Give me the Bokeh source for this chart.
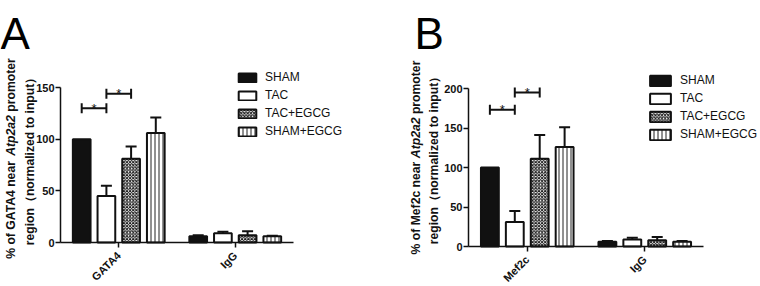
import math
from bokeh.plotting import figure
from bokeh.models import (ColumnDataSource, Range1d, FixedTicker,
                          Legend, LegendItem, Label)
from bokeh.transform import dodge
from bokeh.layouts import row
from bokeh.embed import file_html
from bokeh.resources import INLINE
from bokeh.core.properties import value

# ---------------- data ----------------
series = ["SHAM", "TAC", "TAC+EGCG", "SHAM+EGCG"]

groups_a = ["GATA4", "IgG"]
sham_a = [100, 6]
sham_a_err = [0, 1]
tac_a = [45, 9]
tac_a_err = [10, 1.5]
tacegcg_a = [81, 7]
tacegcg_a_err = [12, 4]
shamegcg_a = [106, 6]
shamegcg_a_err = [15, 0.5]
ticks_a = [0, 50, 100, 150]
brackets_a = [130, 144]       # heights of the two significance brackets
ylabel_a = ["% of GATA4 near ", "Atp2a2", " promoter", "region（normalized to input）"]

groups_b = ["Mef2c", "IgG"]
sham_b = [100, 6]
sham_b_err = [0, 1]
tac_b = [31, 9]
tac_b_err = [14, 2]
tacegcg_b = [111, 8]
tacegcg_b_err = [30, 4]
shamegcg_b = [126, 6]
shamegcg_b_err = [25, 1]
ticks_b = [0, 50, 100, 150, 200]
brackets_b = [173, 195]
ylabel_b = ["% of Mef2c near ", "Atp2a2", " promoter", "region（normalized to input）"]

# ---------------- styling ----------------
FONT = "Liberation Sans"
INK = "#111111"
OFFSETS = [-0.318, -0.106, 0.106, 0.318]
BAR_W = 0.152
STYLES = [
    dict(fill_color=INK),
    dict(fill_color="white"),
    dict(fill_color="white", hatch_pattern="diagonal_cross", hatch_scale=3.2,
         hatch_weight=1.0, hatch_color="#1a1a1a"),
    dict(fill_color="white", hatch_pattern="vertical_line", hatch_scale=4,
         hatch_weight=1, hatch_color="#222222"),
]

BOLD_W = {'%': 889, ' ': 278, 'o': 611, 'f': 333, 'G': 778, 'A': 722, 'T': 611,
          '4': 556, 'n': 611, 'e': 556, 'a': 556, 'r': 389, 't': 333, 'p': 611,
          '2': 556, 'm': 889, 'M': 833, 'c': 556}


def text_w(s, size):
    return sum(BOLD_W.get(ch, 556) for ch in s) / 1000.0 * size


def make_panel(letter, groups, vals, errs, ticks, brackets, ylabel,
               axis_x, unit_x, axis_y, unit_y, legend_loc, glyph_w, glyph_h,
               ylab_x1, ylab_x2, ylab_center, letter_x):
    W, H = 380, 286
    p = figure(width=W, height=H, output_backend="svg", toolbar_location=None,
               x_range=Range1d(-axis_x / unit_x, (W - axis_x) / unit_x),
               y_range=Range1d(-(H - axis_y) / unit_y, axis_y / unit_y))
    p.min_border_left = 0
    p.min_border_right = 0
    p.min_border_top = 0
    p.min_border_bottom = 0
    p.outline_line_color = None
    p.xgrid.visible = False
    p.ygrid.visible = False
    p.background_fill_color = "white"
    p.border_fill_color = "white"

    gx = [i + 0.5 for i in range(len(groups))]

    # axes (drawn at data zero inside the frame)
    p.yaxis.fixed_location = 0
    p.xaxis.fixed_location = 0
    p.yaxis.ticker = FixedTicker(ticks=ticks)
    p.yaxis.bounds = (ticks[0], ticks[-1])
    p.xaxis.ticker = FixedTicker(ticks=gx)
    p.xaxis.bounds = (0, len(groups))
    p.xaxis.major_label_overrides = {x: g for x, g in zip(gx, groups)}
    p.xaxis.major_label_orientation = math.pi / 4
    p.xaxis.major_label_standoff = 6
    for ax in (p.xaxis, p.yaxis):
        ax.axis_line_width = 1.5
        ax.axis_line_color = INK
        ax.major_tick_line_width = 1.5
        ax.major_tick_line_color = INK
        ax.major_tick_out = 5
        ax.major_tick_in = 0
        ax.minor_tick_line_color = None
        ax.major_label_text_font = FONT
        ax.major_label_text_font_style = "bold"
        ax.major_label_text_font_size = "11px"
        ax.major_label_text_color = INK
    p.yaxis.major_label_standoff = 1

    # bars
    renderers = []
    for i, name in enumerate(series):
        src = ColumnDataSource(dict(gx=gx, top=vals[i]))
        xt = dodge("gx", OFFSETS[i])
        r = p.vbar(x=xt, top="top", width=BAR_W, bottom=0, source=src,
                   line_color=INK, line_width=2, **STYLES[i])
        renderers.append(r)
        keep = [k for k in range(len(groups)) if errs[i][k] > 0]
        if keep:
            esrc = ColumnDataSource(dict(gx=[gx[k] for k in keep],
                                         top=[vals[i][k] for k in keep],
                                         up=[vals[i][k] + errs[i][k] for k in keep]))
            p.segment(x0=xt, x1=xt, y0="top", y1="up", source=esrc,
                      line_color=INK, line_width=2)
            p.scatter(x=xt, y="up", marker="dash", size=11, source=esrc,
                      line_color=INK, line_width=2)

    # significance brackets
    for j, h in enumerate(brackets):
        bsrc = ColumnDataSource(dict(gx=[gx[0]], y=[h], s=["*"]))
        xa = dodge("gx", OFFSETS[j])
        xb = dodge("gx", OFFSETS[j + 1])
        xm = dodge("gx", (OFFSETS[j] + OFFSETS[j + 1]) / 2)
        p.segment(x0=xa, x1=xb, y0="y", y1="y", source=bsrc, line_color=INK, line_width=2)
        p.scatter(x=xa, y="y", marker="dash", angle=math.pi / 2, size=10, source=bsrc,
                  line_color=INK, line_width=2)
        p.scatter(x=xb, y="y", marker="dash", angle=math.pi / 2, size=10, source=bsrc,
                  line_color=INK, line_width=2)
        p.text(x=xm, y="y", text="s", source=bsrc, text_align="center",
               text_baseline="alphabetic", text_font=value(FONT), text_font_size="13px",
               text_color=INK)

    # legend
    items = [LegendItem(label=s, renderers=[r]) for s, r in zip(series, renderers)]
    leg = Legend(items=items, location=legend_loc, padding=0, margin=0, spacing=4,
                 glyph_width=glyph_w, glyph_height=glyph_h, label_height=12,
                 label_standoff=7, border_line_color=None, background_fill_alpha=0,
                 label_text_font=FONT, label_text_font_size="12px",
                 label_text_color=INK)
    p.add_layout(leg)

    # y-axis title (two lines, with italic gene name)
    size = 12.2
    total = sum(text_w(s, size) for s in ylabel[:3])
    y0 = ylab_center - total / 2
    styles = ["bold", "bold italic", "bold"]
    for s, st in zip(ylabel[:3], styles):
        shown = s.replace(" ", "\u00a0")
        p.add_layout(Label(x=ylab_x1, y=y0, x_units="screen", y_units="screen", text=shown,
                           angle=math.pi / 2, text_align="left", text_baseline="middle",
                           text_font=FONT, text_font_style=st, text_font_size=f"{size}px",
                           text_color=INK))
        y0 += text_w(s, size)
    p.add_layout(Label(x=ylab_x2, y=ylab_center, x_units="screen", y_units="screen",
                       text=ylabel[3], angle=math.pi / 2, text_align="center",
                       text_baseline="middle", text_font=FONT, text_font_style="bold",
                       text_font_size=f"{size}px", text_color=INK))

    # panel letter
    p.add_layout(Label(x=letter_x, y=H - 33, x_units="screen", y_units="screen",
                       text=letter, text_align="left", text_baseline="alphabetic",
                       text_font=FONT, text_font_size="44px", text_color="black"))
    return p


pa = make_panel("A", groups_a,
                [sham_a, tac_a, tacegcg_a, shamegcg_a],
                [sham_a_err, tac_a_err, tacegcg_a_err, shamegcg_a_err],
                ticks_a, brackets_a, ylabel_a,
                axis_x=60, unit_x=116.5, axis_y=242, unit_y=1.033,
                legend_loc=(236, 148), glyph_w=22, glyph_h=11,
                ylab_x1=10, ylab_x2=29, ylab_center=128, letter_x=0)

pb = make_panel("B", groups_b,
                [sham_b, tac_b, tacegcg_b, shamegcg_b],
                [sham_b_err, tac_b_err, tacegcg_b_err, shamegcg_b_err],
                ticks_b, brackets_b, ylabel_b,
                axis_x=88, unit_x=117.5, axis_y=246, unit_y=0.79,
                legend_loc=(267, 145), glyph_w=26, glyph_h=13,
                ylab_x1=35, ylab_x2=53, ylab_center=129, letter_x=34)

layout = row(pa, pb)
open("out.html", "w").write(file_html(layout, INLINE))
